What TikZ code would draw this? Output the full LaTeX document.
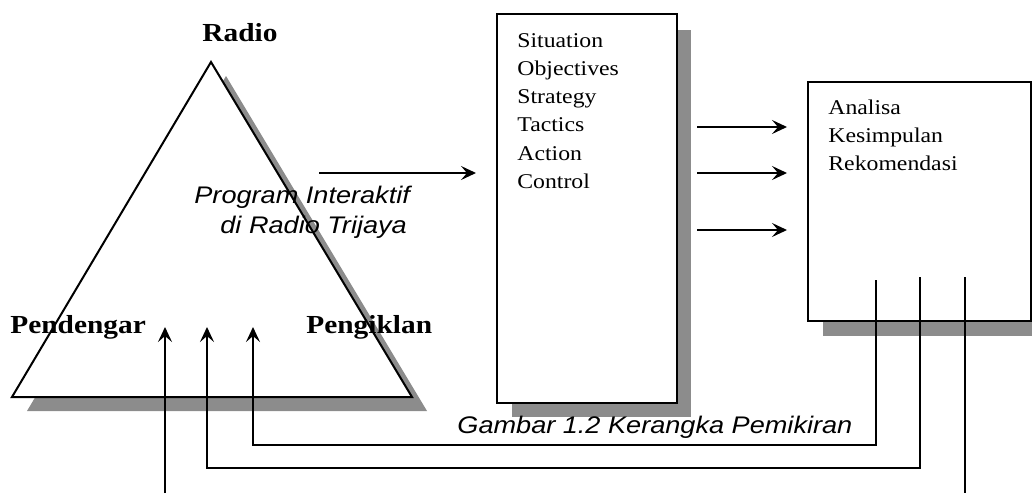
\documentclass[tikz,border=0pt]{standalone}
\usepackage{fontspec}
\setmainfont[FakeStretch=1.13]{Liberation Serif}
\setsansfont[FakeStretch=1.13]{Liberation Sans}
\usetikzlibrary{arrows.meta}
\definecolor{shadowgray}{gray}{0.55}
\tikzset{
  frame/.style={line width=1pt,fill=white},
  arr/.style={line width=0.9pt,-{Stealth[length=7.5pt,width=7pt,inset=3pt]}},
  link/.style={line width=0.9pt}
}

\begin{document}
\begin{tikzpicture}[x=0.5pt,y=-0.5pt]
  \useasboundingbox (0,0) rectangle (1032,493);
  \clip (0,0) rectangle (1032,493);
  % triangle
  \coordinate (apex) at (211,62);
  \coordinate (baseL) at (12,397);
  \coordinate (baseR) at (412,397);
  \fill[shadowgray] ([shift={(15,14)}]apex) -- ([shift={(15,14)}]baseR) -- ([shift={(15,14)}]baseL) -- cycle;
  \draw[frame] (apex) -- (baseR) -- (baseL) -- cycle;
  \node[font=\bfseries\fontsize{13}{15}\selectfont,anchor=base,inner sep=0] (radio) at (240,41){Radio};
  \node[font=\bfseries\fontsize{13}{15}\selectfont,anchor=base west,inner sep=0] (pendengar) at (10,333){Pendengar};
  \node[font=\bfseries\fontsize{13}{15}\selectfont,anchor=base west,inner sep=0] (pengiklan) at (306,333){Pengiklan};
  \node[font=\sffamily\itshape\fontsize{12}{15}\selectfont,anchor=base west,inner sep=0] (program) at (194,203){Program Interaktif};
  \node[font=\sffamily\itshape\fontsize{12}{15}\selectfont,anchor=base west,inner sep=0] (trijaya) at (220,233){di Radio Trijaya};
  % planning box
  \fill[shadowgray] (512,30) rectangle (691,417);
  \draw[frame] (497,14) rectangle (677,403);
  \node[font=\fontsize{10.5}{14.1}\selectfont,anchor=north west,align=left,inner sep=0] (steps) at (517,33){Situation\\Objectives\\Strategy\\Tactics\\Action\\Control};
  % result box
  \fill[shadowgray] (823,97) rectangle (1046,336);
  \draw[frame] (808,82) rectangle (1031,321);
  \node[font=\fontsize{10.5}{14}\selectfont,anchor=north west,align=left,inner sep=0] (hasil) at (828,100){Analisa\\Kesimpulan\\Rekomendasi};
  \node[font=\sffamily\itshape\fontsize{12}{15}\selectfont,anchor=base west,inner sep=0] (caption) at (457,433){Gambar 1.2 Kerangka Pemikiran};
  % connectors
  \coordinate (inStart) at (319,173);
  \coordinate (inEnd) at (476,173);
  \draw[arr] (inStart) -- (inEnd);
  \coordinate (mid1a) at (697,127);
  \coordinate (mid1b) at (787,127);
  \coordinate (mid2a) at (697,173);
  \coordinate (mid2b) at (787,173);
  \coordinate (mid3a) at (697,230);
  \coordinate (mid3b) at (787,230);
  \draw[arr] (mid1a) -- (mid1b);
  \draw[arr] (mid2a) -- (mid2b);
  \draw[arr] (mid3a) -- (mid3b);
  \coordinate (foot) at (165,493);
  \coordinate (tip1) at (165,327);
  \coordinate (tip2) at (207,327);
  \coordinate (tip3) at (253,327);
  \coordinate (out1) at (876,280);
  \coordinate (out2) at (920,277);
  \coordinate (out3) at (965,277);
  \coordinate (drop3) at (965,493);
  \coordinate (lowA) at (0,445);
  \coordinate (lowB) at (0,468);
  \draw[arr] (foot) -- (tip1);
  \draw[arr] (out1) -- (out1 |- lowA) -- (tip3 |- lowA) -- (tip3);
  \draw[arr] (out2) -- (out2 |- lowB) -- (tip2 |- lowB) -- (tip2);
  \draw[link] (out3) -- (drop3);
\end{tikzpicture}
\end{document}
